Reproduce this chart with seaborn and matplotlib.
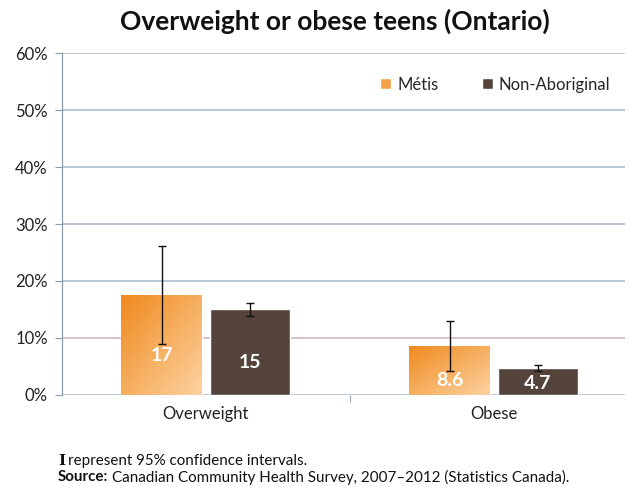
import numpy as np
import pandas as pd
import matplotlib
matplotlib.use("Agg")
import matplotlib.pyplot as plt
from matplotlib.colors import LinearSegmentedColormap
import seaborn as sns

categories = ["Overweight", "Obese"]
groups = ["Métis", "Non-Aboriginal"]
metis_values = [17.5, 8.6]
nonab_values = [15.1, 4.7]
metis_ci_low = [9.0, 4.2]
metis_ci_high = [26.1, 13.0]
nonab_ci_low = [13.9, 4.2]
nonab_ci_high = [16.2, 5.3]
metis_labels = ["17", "8.6"]
nonab_labels = ["15", "4.7"]
yticks = [0, 10, 20, 30, 40, 50, 60]
ytick_labels = ["0%", "10%", "20%", "30%", "40%", "50%", "60%"]

sns.set_style("white")
plt.rcParams["font.family"] = ["Lato", "DejaVu Sans"]

df = pd.DataFrame({
    "category": categories * 2,
    "group": [groups[0]] * 2 + [groups[1]] * 2,
    "value": metis_values + nonab_values,
})

fig = plt.figure(figsize=(6.3, 4.87), dpi=100)
ax = fig.add_axes([0.098, 0.189, 0.894, 0.702])

palette = {"Métis": "#F4A04A", "Non-Aboriginal": "#54443B"}
sns.barplot(data=df, x="category", y="value", hue="group", order=categories,
            hue_order=groups, palette=palette, width=0.613, gap=0.088,
            saturation=1, errorbar=None, ax=ax, zorder=3)

XLIM = (-0.5, 1.455)
ax.set_ylim(0, 60)
ax.set_xlim(*XLIM)
ax.set_yticks(yticks)
ax.set_yticklabels(ytick_labels, fontsize=12, color="#222222")
ax.set_xlabel("")
ax.set_ylabel("")
ax.set_xticks([0.5], minor=True)
ax.tick_params(axis="x", which="major", length=0, labelsize=12, pad=8, colors="#222222")
ax.tick_params(axis="x", which="minor", length=5, width=0.9, color="#9AAAB8", bottom=True)
ax.tick_params(axis="y", length=5, width=0.8, color="#8C9BA8", pad=5, left=True)

for y in yticks:
    col = "#CDB0B5" if y == 10 else "#A4B8C8"
    ax.axhline(y, color=col, lw=1.1, zorder=1)

for s in ["top", "right", "bottom"]:
    ax.spines[s].set_visible(False)
ax.spines["left"].set_color("#8C9BA8")
ax.spines["left"].set_linewidth(0.9)

patches = [p for p in ax.patches if p.get_height() > 0]
patches = sorted(patches, key=lambda p: p.get_x())
metis_patches = [patches[0], patches[2]]
nonab_patches = [patches[1], patches[3]]

# gradient on Métis bars: dark top-left to light bottom-right
cmap = LinearSegmentedColormap.from_list("met", ["#F08A1E", "#FCD2A0"])
gx, gy = np.meshgrid(np.linspace(0, 1, 64), np.linspace(0, 1, 64))
grad = (gx + gy) / 2
for p in metis_patches:
    x0, w, h = p.get_x(), p.get_width(), p.get_height()
    im = ax.imshow(grad, cmap=cmap, extent=[x0, x0 + w, 0, h], aspect="auto",
                   origin="upper", zorder=3.5, interpolation="bilinear")
    im.set_clip_path(p)
ax.set_xlim(*XLIM)
ax.set_ylim(0, 60)

def add_err(plist, vals, lo, hi):
    xs = [p.get_x() + p.get_width() / 2 for p in plist]
    yerr = [np.array(vals) - np.array(lo), np.array(hi) - np.array(vals)]
    ax.errorbar(xs, vals, yerr=yerr, fmt="none", ecolor="#111111",
                elinewidth=1.0, capsize=3, capthick=1.0, zorder=5)

add_err(metis_patches, metis_values, metis_ci_low, metis_ci_high)
add_err(nonab_patches, nonab_values, nonab_ci_low, nonab_ci_high)

def add_labels(plist, labels):
    for p, lab in zip(plist, labels):
        cx = p.get_x() + p.get_width() / 2
        h = p.get_height()
        ypos = max(h / 2 - 1.8, 2.0)
        ax.text(cx, ypos, lab, ha="center", va="center", color="white",
                fontsize=14, fontweight="bold", zorder=6)

add_labels(metis_patches, metis_labels)
add_labels(nonab_patches, nonab_labels)

handles, labels = ax.get_legend_handles_labels()
leg = ax.legend(handles, labels, loc="upper right", bbox_to_anchor=(1.0, 0.975),
                ncol=2, frameon=False, fontsize=12, handlelength=0.65,
                handleheight=0.65, handletextpad=0.35, columnspacing=2.6)

fig.text(0.532, 0.957, "Overweight or obese teens (Ontario)", ha="center",
         va="center", fontsize=19, fontweight="bold", color="#111111")

fig.canvas.draw()
r = fig.canvas.get_renderer()
fw = fig.bbox.width

t1 = fig.text(0.092, 0.053, "I", fontsize=11, fontweight="bold",
              family=["DejaVu Serif"], color="#111111", va="center")
bb = t1.get_window_extent(r)
fig.text(bb.x1 / fw + 0.005, 0.053, "represent 95% confidence intervals.",
         fontsize=10.9, color="#111111", va="center")
t2 = fig.text(0.092, 0.02, "Source:", fontsize=10.9, fontweight="bold",
              color="#111111", va="center")
bb2 = t2.get_window_extent(r)
fig.text(bb2.x1 / fw + 0.006, 0.02,
         "Canadian Community Health Survey, 2007\u20132012 (Statistics Canada).",
         fontsize=10.9, color="#111111", va="center")

fig.savefig("out.png", dpi=100)
